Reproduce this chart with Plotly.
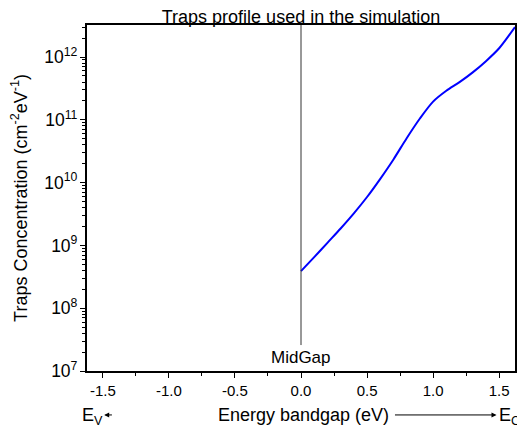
import plotly.graph_objects as go

# Data
energy = [0.0, 0.1, 0.2, 0.3, 0.4, 0.5, 0.6, 0.7, 0.8, 0.9, 1.0, 1.1, 1.2, 1.3, 1.4, 1.5, 1.62]
traps = [3.9e8, 6.5e8, 1.1e9, 1.86e9, 3.24e9, 5.9e9, 1.15e10, 2.34e10, 5.1e10, 1.05e11,
         1.95e11, 2.9e11, 3.98e11, 5.7e11, 8.6e11, 1.38e12, 3.0e12]
x_ticks = [-1.5, -1.0, -0.5, 0.0, 0.5, 1.0, 1.5]
x_tick_labels = ["-1.5", "-1.0", "-0.5", "0.0", "0.5", "1.0", "1.5"]
midgap = 0.0

FONT = "Liberation Sans, Arial, sans-serif"

# page body has an 8px margin, so the figure is sized to the visible area
W, H = 517, 421

fig = go.Figure()
fig.add_trace(go.Scatter(x=energy, y=traps, mode="lines",
                         line=dict(color="#0000ff", width=2, shape="spline", smoothing=0.8),
                         showlegend=False))

fig.add_shape(type="line", xref="x", yref="paper", x0=midgap, x1=midgap, y0=0.075, y1=1,
              line=dict(color="#333333", width=1))

fig.update_layout(
    width=W, height=H,
    margin=dict(l=79, r=10, t=17, b=58, autoexpand=False),
    paper_bgcolor="white", plot_bgcolor="white",
    font=dict(family=FONT, size=14, color="black"),
    title=dict(text="Traps profile used in the simulation", x=0.5, xref="paper",
               y=1 - 9 / H, yanchor="middle", font=dict(size=18, family=FONT)),
    xaxis=dict(range=[-1.62, 1.62], tickvals=x_ticks, ticktext=x_tick_labels,
               ticks="outside", ticklen=5, tickwidth=1.2, tickcolor="black",
               minor=dict(dtick=0.25, tick0=0, ticks="outside", ticklen=3, tickcolor="black"),
               showline=True, linecolor="black", linewidth=1.5, mirror=True,
               showgrid=False, zeroline=False, tickfont=dict(size=15)),
    yaxis=dict(type="log", range=[7, 12.51], dtick=1, exponentformat="power",
               ticks="outside", ticklen=5, tickwidth=1.2, tickcolor="black",
               minor=dict(ticks="outside", ticklen=3, tickcolor="black", dtick="D1"),
               showline=True, linecolor="black", linewidth=1.5, mirror=True,
               showgrid=False, zeroline=False, tickfont=dict(size=14),
               title=dict(text="Traps Concentration (cm<sup>-2</sup>eV<sup>-1</sup>)",
                          font=dict(size=18), standoff=12)),
)

ylab = -0.127
annotations = [
    dict(text="MidGap", x=midgap, xref="x", y=0.038, yref="paper", showarrow=False,
         font=dict(size=17), yanchor="middle"),
    dict(text="Energy bandgap (eV)", x=0.02, xref="x", y=ylab, yref="paper",
         showarrow=False, font=dict(size=18), yanchor="middle"),
    dict(text="", x=1.48, xref="x", y=ylab, yref="paper", ax=0.70, axref="x",
         ay=0, ayref="pixel", showarrow=True, arrowhead=2, arrowsize=1, arrowwidth=1,
         arrowcolor="black"),
    dict(text="E<sub>C</sub>", x=1.48, xref="x", y=ylab - 0.005, yref="paper", xanchor="left",
         showarrow=False, font=dict(size=18), yanchor="middle"),
    dict(text="E<sub>V</sub>", x=-1.48, xref="x", y=ylab - 0.005, yref="paper", xanchor="right",
         showarrow=False, font=dict(size=18), yanchor="middle"),
    dict(text="", x=-1.49, xref="x", y=ylab, yref="paper", ax=-1.42, axref="x",
         ay=0, ayref="pixel", showarrow=True, arrowhead=2, arrowsize=1, arrowwidth=1,
         arrowcolor="black"),
]
fig.update_layout(annotations=annotations)

fig.write_html("out.html")
